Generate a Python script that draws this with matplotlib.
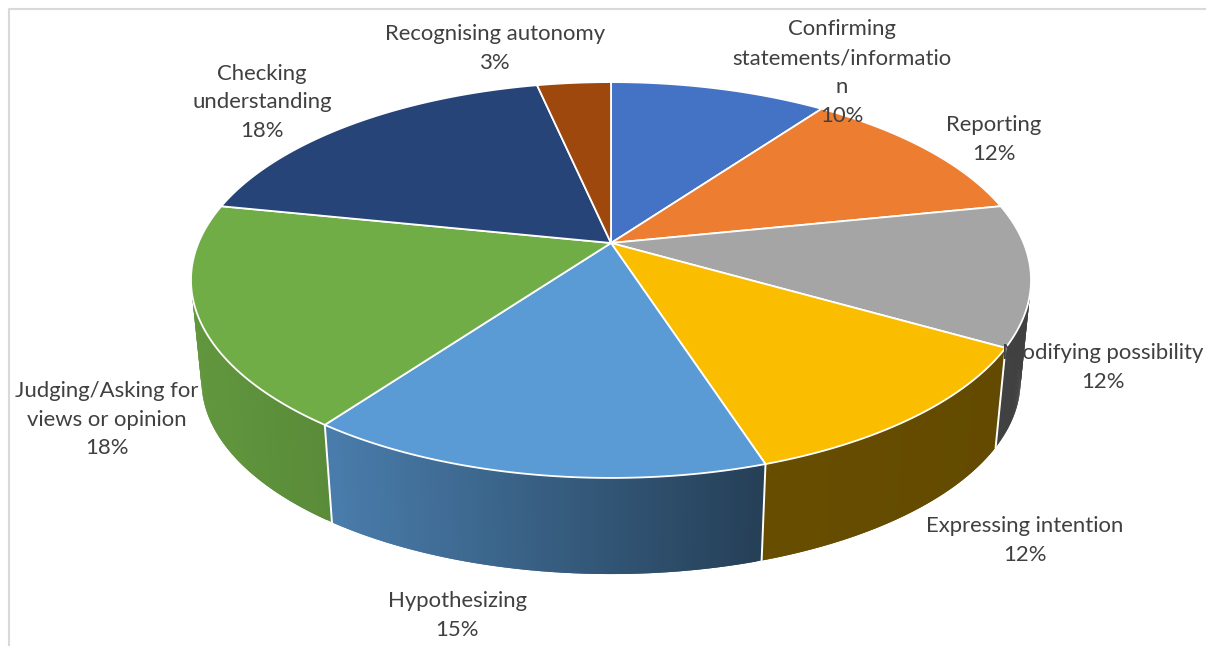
# 3D style pie of speech act categories, drawn as flat polygons
import numpy as np
import matplotlib
matplotlib.use('Agg')
import matplotlib.pyplot as plt
from matplotlib.collections import PolyCollection

# Data
categories = ['Confirming\nstatements/informatio\nn', 'Reporting', 'Modifying possibility',
              'Expressing intention', 'Hypothesizing', 'Judging/Asking for\nviews or opinion',
              'Checking\nunderstanding', 'Recognising autonomy']
values = [10, 11.8, 11.5, 11.72, 15, 18.18, 18.4, 3.4]
shown_pct = ['10%', '12%', '12%', '12%', '15%', '18%', '18%', '3%']

# Styles and layout
colors = ['#4472c4', '#ed7d31', '#a5a5a5', '#fbbd00', '#5b9bd5', '#70ad47', '#264478', '#9e480e']
label_xy = [(842, 72.5), (994, 139.5), (1103, 367.5), (1025, 540.5), (457, 615.5), (107, 419.5), (262, 102.5), (495, 48.5)]
cx, cy_top, cy_bottom = 611, 243, 345
bx, ay, persp = 412.6, 191, 0.187
bottom_scale = 0.975


def project(theta, scale=1.0, cy=cy_top, r=1.0):
    # theta runs clockwise from 12 o'clock, perspective makes the front bigger
    X = r * np.sin(theta)
    Y = -r * np.cos(theta)
    d = 1 - persp * Y
    return cx + scale * bx * X / d, cy + scale * ay * Y / d


def shade(x):
    # side walls go darker from left to right
    return np.interp(x, [190, 333, 762, 1030], [0.87, 0.80, 0.41, 0.39])


fig = plt.figure(figsize=(12.06, 6.46), dpi=100)
ax = fig.add_axes([0, 0, 1, 1])
ax.set_xlim(0, 1206)
ax.set_ylim(646, 0)
ax.axis('off')

# chart frame, only the top and left edges show in the crop
ax.plot([1206, 8.5, 8.5], [8.5, 8.5, 646], color='#d9d9d9', lw=1.5, zorder=1)

edges = np.cumsum([0] + values) / sum(values) * 2 * np.pi

# side walls first, each strip overlaps the next one so no seams show
for i, col in enumerate(colors):
    t = np.linspace(edges[i], edges[i + 1], 80)
    xt, yt = project(t)
    xb, yb = project(t, bottom_scale, cy_bottom)
    quads = []
    cols = []
    base = np.array(matplotlib.colors.to_rgb(col))
    for j in range(len(t) - 1):
        k = min(j + 2, len(t) - 1)
        quads.append([(xt[j], yt[j]), (xt[k], yt[k]), (xb[k], yb[k]), (xb[j], yb[j])])
        cols.append(base * shade((xt[j] + xt[j + 1]) / 2))
    ax.add_collection(PolyCollection(quads, facecolors=cols, edgecolors='none', zorder=2))

# white dividers on the walls
for e in edges[:-1]:
    xt, yt = project(e)
    xb, yb = project(e, bottom_scale, cy_bottom)
    ax.plot([xt, xb], [yt, yb], color='white', lw=1.4, zorder=3)

# top face
for i, col in enumerate(colors):
    t = np.linspace(edges[i], edges[i + 1], 120)
    xt, yt = project(t)
    px = np.concatenate([[cx], xt])
    py = np.concatenate([[cy_top], yt])
    ax.fill(px, py, facecolor=col, edgecolor='white', lw=1.3, joinstyle='round', zorder=4)

# labels
for name, pct, (lx, ly) in zip(categories, shown_pct, label_xy):
    ax.text(lx, ly, name + '\n' + pct, ha='center', va='center', ma='center', fontsize=15.9,
            family='Lato', color='#404040', linespacing=1.55, zorder=5)

fig.savefig('out.png', dpi=100)
